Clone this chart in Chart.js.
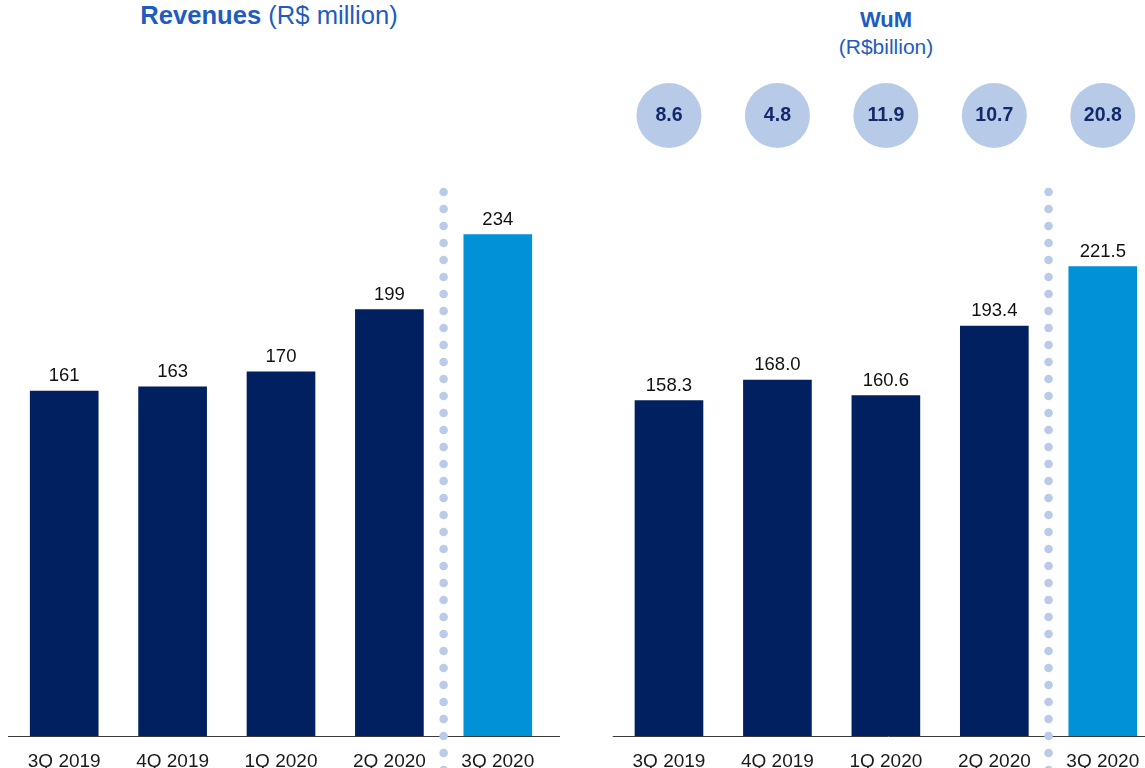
<!DOCTYPE html>
<html>
<head>
<meta charset="utf-8">
<script src="https://cdn.jsdelivr.net/npm/chart.js@4"></script>
<style>
  html, body { margin: 0; padding: 0; background: #fff; }
  body { width: 1145px; height: 768px; overflow: hidden; position: relative; font-family: "Liberation Sans", Arial, sans-serif; }
  .box { position: absolute; top: 0; width: 560px; height: 776px; }
  .title { position: absolute; color: #1f5cbf; white-space: nowrap; transform: translateX(-50%); text-align: center; }
  .title b { font-weight: bold; }
</style>
</head>
<body>
<div class="title" style="left:269px; top:1px; font-size:25.6px;"><b>Revenues</b> (R$ million)</div>
<div class="title" style="left:886px; top:6px; font-size:22px; line-height:27px;"><b>WuM</b><br><span style="font-size:21px;">(R$billion)</span></div>

<div class="box" style="left:0px;"><canvas id="revChart"></canvas></div>
<div class="box" style="left:604px;"><canvas id="wumChart"></canvas></div>

<script>
// quarters shown on both charts
const quarters = ['3Q 2019', '4Q 2019', '1Q 2020', '2Q 2020', '3Q 2020'];
// revenues, R$ million
const revenues = [161, 163, 170, 199, 234];
// wealth under management, R$ billion
const wum = [158.3, 168.0, 160.6, 193.4, 221.5];
// bubble figures above the WuM bars, R$ billion
const wumBubbles = [8.6, 4.8, 11.9, 10.7, 20.8];

const NAVY = '#002060';
const HIGHLIGHT = '#0091d7';
const DOT = '#b9cbe9';
const FONT = '"Liberation Sans", Arial, sans-serif';

const barColors = quarters.map((q, i) => i === quarters.length - 1 ? HIGHLIGHT : NAVY);

// value on top of each bar
const valueLabels = {
  id: 'valueLabels',
  afterDatasetsDraw(chart, args, opts) {
    const ctx = chart.ctx;
    const meta = chart.getDatasetMeta(0);
    const data = chart.data.datasets[0].data;
    ctx.save();
    ctx.font = '18.5px ' + FONT;
    ctx.fillStyle = '#111';
    ctx.textAlign = 'center';
    ctx.textBaseline = 'alphabetic';
    meta.data.forEach((bar, i) => {
      ctx.fillText(opts.format(data[i]), bar.x, bar.y - 10);
    });
    ctx.restore();
  }
};

// baseline running to the canvas edge, plus dotted divider before the latest quarter
const divider = {
  id: 'divider',
  afterDraw(chart) {
    const ctx = chart.ctx;
    const area = chart.chartArea;
    ctx.save();
    ctx.strokeStyle = '#3a3a3a';
    ctx.lineWidth = 1;
    ctx.beginPath();
    ctx.moveTo(area.left - 2, Math.round(area.bottom) + 0.5);
    ctx.lineTo(chart.width, Math.round(area.bottom) + 0.5);
    ctx.stroke();

    const x = chart.scales.x.getPixelForValue(quarters.length - 1.5);
    ctx.fillStyle = DOT;
    for (let y = 192; y < chart.height; y += 17) {
      ctx.beginPath();
      ctx.arc(x, y, 4.3, 0, Math.PI * 2);
      ctx.fill();
    }
    ctx.restore();
  }
};

// circles with figures above the bars
const bubbles = {
  id: 'bubbles',
  afterDraw(chart, args, opts) {
    if (!opts.values) return;
    const ctx = chart.ctx;
    ctx.save();
    opts.values.forEach((v, i) => {
      const x = chart.scales.x.getPixelForValue(i);
      ctx.beginPath();
      ctx.arc(x, 115.5, 32.5, 0, Math.PI * 2);
      ctx.fillStyle = '#b7cbe9';
      ctx.fill();
      ctx.fillStyle = '#13296b';
      ctx.font = 'bold 19.5px ' + FONT;
      ctx.textAlign = 'center';
      ctx.textBaseline = 'middle';
      ctx.fillText(v.toFixed(1), x, 116);
    });
    ctx.restore();
  }
};

function makeChart(id, values, yMax, top, padLeft, padRight, fmt, bubbleValues) {
  return new Chart(document.getElementById(id), {
    type: 'bar',
    data: {
      labels: quarters,
      datasets: [{
        data: values,
        backgroundColor: barColors,
        barThickness: 68
      }]
    },
    options: {
      responsive: true,
      maintainAspectRatio: false,
      animation: false,
      layout: { padding: { top: top, left: padLeft, right: padRight, bottom: 0 } },
      plugins: {
        legend: { display: false },
        tooltip: { enabled: false },
        valueLabels: { format: fmt },
        bubbles: { values: bubbleValues }
      },
      scales: {
        x: {
          grid: { display: false, drawTicks: false },
          border: { display: false },
          ticks: { color: '#1a1a1a', font: { size: 19, family: FONT }, padding: 14, maxRotation: 0 },
          afterFit(scale) { scale.height = 40; }
        },
        y: {
          display: false,
          min: 0,
          max: yMax
        }
      }
    },
    plugins: [valueLabels, divider, bubbles]
  });
}

makeChart('revChart', revenues, 260, 179, 10, 8, v => String(v), null);
makeChart('wumChart', wum, 260, 185, 10.75, 7, v => v.toFixed(1), wumBubbles);
</script>
</body>
</html>
